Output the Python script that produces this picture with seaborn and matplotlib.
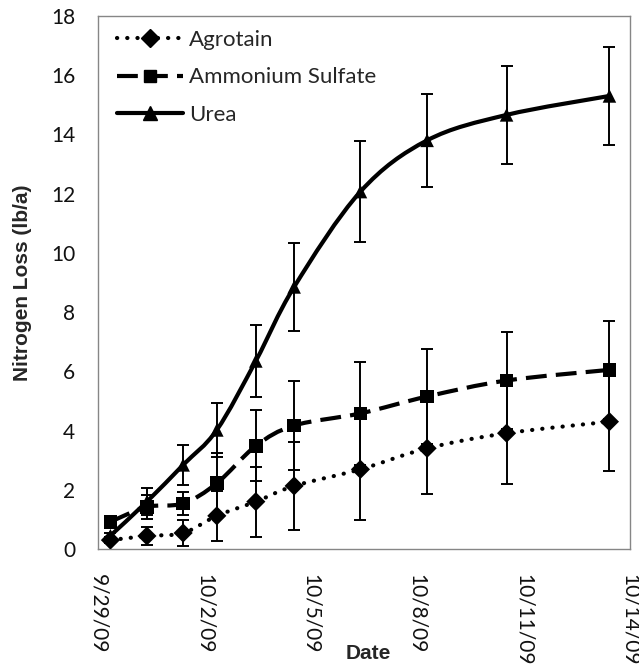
import numpy as np
import pandas as pd
import matplotlib
matplotlib.use("Agg")
import matplotlib.pyplot as plt
import matplotlib.dates as mdates
from matplotlib.path import Path
from matplotlib.patches import PathPatch
from matplotlib.lines import Line2D
import seaborn as sns

# sampling times
sample_times = ["2009-09-29 08:24", "2009-09-30 09:07", "2009-10-01 09:36",
                "2009-10-02 08:24", "2009-10-03 10:48", "2009-10-04 12:43",
                "2009-10-06 09:36", "2009-10-08 06:43", "2009-10-10 12:29",
                "2009-10-13 10:05"]

agrotain = [0.30, 0.44, 0.54, 1.12, 1.60, 2.13, 2.69, 3.40, 3.91, 4.30]
agrotain_err = [0.10, 0.30, 0.45, 0.85, 1.18, 1.50, 1.70, 1.55, 1.70, 1.65]

ammonium = [0.92, 1.42, 1.54, 2.22, 3.48, 4.17, 4.58, 5.15, 5.69, 6.05]
ammonium_err = [0.15, 0.40, 0.40, 1.03, 1.20, 1.50, 1.75, 1.60, 1.65, 1.65]

urea = [0.45, 1.60, 2.84, 4.02, 6.35, 8.85, 12.07, 13.80, 14.66, 15.30]
urea_err = [0.10, 0.45, 0.67, 0.90, 1.20, 1.50, 1.70, 1.56, 1.65, 1.65]

series_names = ["Agrotain", "Ammonium Sulfate", "Urea"]
tick_dates = ["2009-09-29", "2009-10-02", "2009-10-05", "2009-10-08", "2009-10-11", "2009-10-14"]
tick_labels = ["9/29/09", "10/2/09", "10/5/09", "10/8/09", "10/11/09", "10/14/09"]

sns.set_style("white")
plt.rcParams['font.family'] = ['Lato', 'DejaVu Sans']

t = pd.to_datetime(sample_times)
df = pd.concat([
    pd.DataFrame({"date": t, "loss": agrotain, "err": agrotain_err, "product": "Agrotain"}),
    pd.DataFrame({"date": t, "loss": ammonium, "err": ammonium_err, "product": "Ammonium Sulfate"}),
    pd.DataFrame({"date": t, "loss": urea, "err": urea_err, "product": "Urea"}),
])
df["xnum"] = mdates.date2num(df["date"])

markers = {"Agrotain": "D", "Ammonium Sulfate": "s", "Urea": "^"}
sizes = {"Agrotain": 9, "Ammonium Sulfate": 8.5, "Urea": 10}
styles = {"Agrotain": (0, (0.05, 2.4)), "Ammonium Sulfate": (0, (5, 2.2)), "Urea": "-"}


def smooth_path(x, y):
    # excel style smoothed line (catmull-rom as cubic bezier)
    pts = np.column_stack([x, y])
    n = len(pts)
    verts = [pts[0]]
    codes = [Path.MOVETO]
    for i in range(n - 1):
        p0 = pts[max(i - 1, 0)]
        p1 = pts[i]
        p2 = pts[i + 1]
        p3 = pts[min(i + 2, n - 1)]
        verts += [p1 + (p2 - p0) / 6, p2 - (p3 - p1) / 6, p2]
        codes += [Path.CURVE4] * 3
    return Path(verts, codes)


fig = plt.figure(figsize=(6.39, 6.71), dpi=100)
ax = fig.add_axes([98 / 639, 1 - 549 / 671, 532 / 639, 533 / 671])

for name in series_names:
    d = df[df["product"] == name]
    patch = PathPatch(smooth_path(d["xnum"].values, d["loss"].values), fill=False,
                      edgecolor="black", lw=3, linestyle=styles[name],
                      capstyle="round" if name == "Agrotain" else "butt", zorder=2)
    ax.add_patch(patch)
    ax.errorbar(d["xnum"], d["loss"], yerr=d["err"], fmt="none", ecolor="black",
                elinewidth=1.4, capsize=4.3, capthick=1.4, zorder=3)

sns.scatterplot(data=df, x="xnum", y="loss", style="product", markers=markers,
                color="black", s=95, edgecolor="black", linewidth=0, legend=False,
                ax=ax, zorder=4)

ax.set_xlim(mdates.date2num(pd.Timestamp("2009-09-29")), mdates.date2num(pd.Timestamp("2009-10-14")))
ax.set_ylim(0, 18)
ax.set_yticks(np.arange(0, 19, 2))
ax.set_xticks(mdates.date2num(pd.to_datetime(tick_dates)))
ax.set_xticklabels(tick_labels, rotation=-90)
ax.tick_params(axis="both", direction="inout", length=7, width=1, color="#868686",
               labelsize=15, labelcolor="#111111")
ax.tick_params(axis="y", pad=13)
ax.tick_params(axis="x", pad=14.5)

for side in ["left", "bottom", "top", "right"]:
    ax.spines[side].set_color("#868686")
    ax.spines[side].set_linewidth(1)

ax.set_ylabel("Nitrogen Loss (lb/a)", fontsize=15, fontweight="bold", family="Liberation Sans")
ax.yaxis.set_label_coords(-0.124, 0.5)
ax.set_xlabel("Date", fontsize=15, fontweight="bold", family="Liberation Sans")
ax.xaxis.set_label_coords(0.508, -0.178)

handles = [Line2D([], [], color="black", lw=3, linestyle=styles[n], marker=markers[n],
                  markersize=sizes[n], dash_capstyle="round" if n == "Agrotain" else "butt")
           for n in series_names]
ax.legend(handles, series_names, loc="upper left", bbox_to_anchor=(117 / 639, 1 - 30 / 671),
          bbox_transform=fig.transFigure, frameon=False, fontsize=16, handlelength=2.95,
          handletextpad=0.3, labelspacing=0.78, borderpad=0, borderaxespad=0)

plt.savefig("out.png", dpi=100)
